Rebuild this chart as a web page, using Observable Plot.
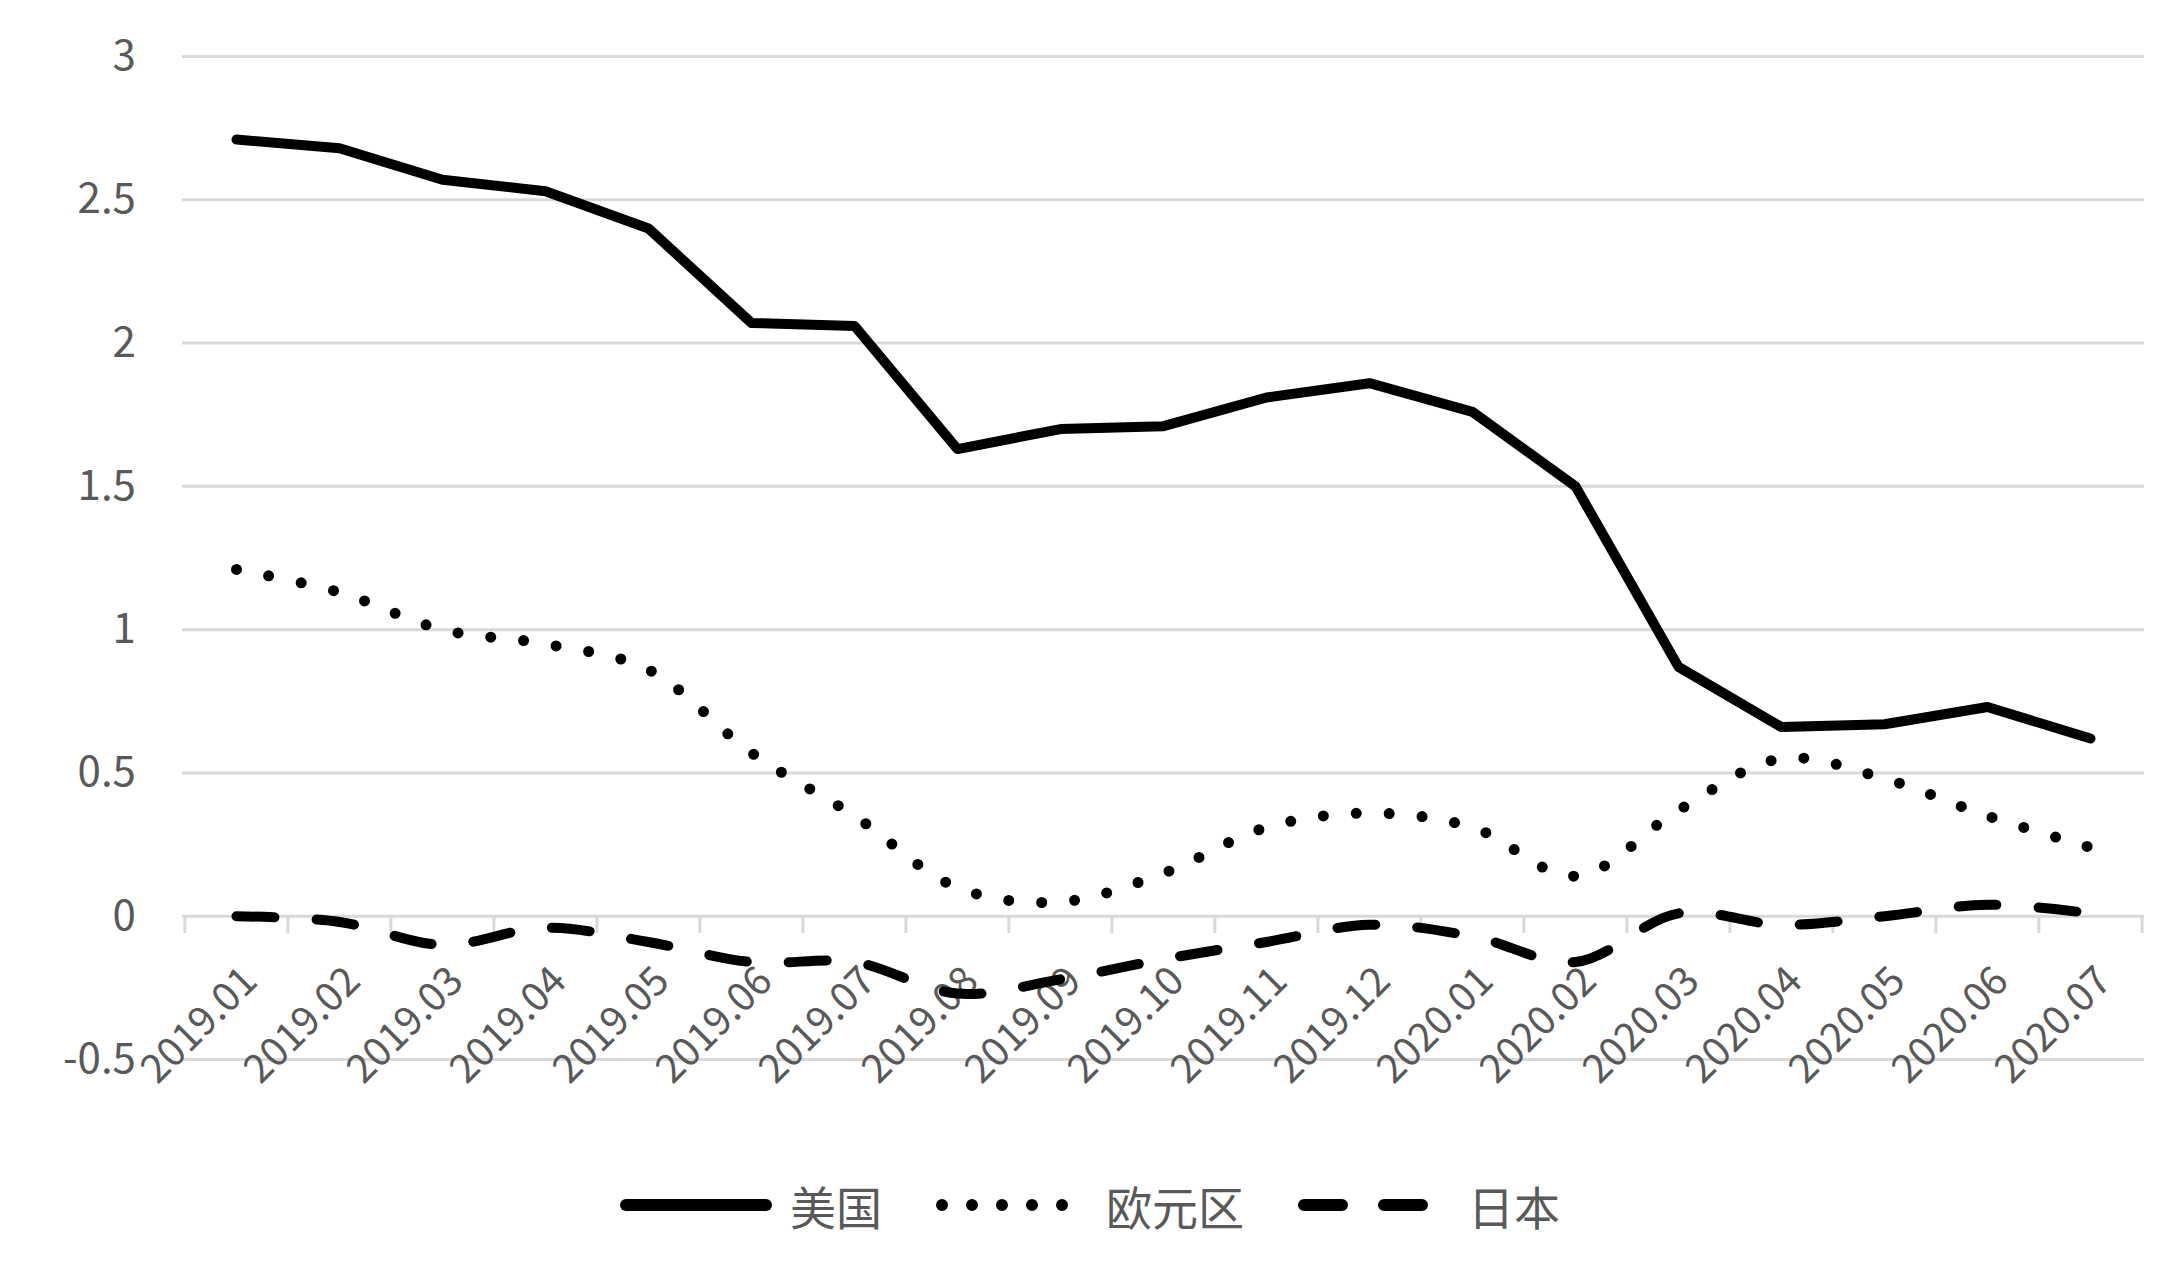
<!DOCTYPE html>
<html><head><meta charset="utf-8">
<script src="https://cdn.jsdelivr.net/npm/d3@7"></script>
<script src="https://cdn.jsdelivr.net/npm/@observablehq/plot@0.6"></script>
<style>body{margin:0;background:#fff;font-family:"Noto Sans CJK SC","DejaVu Sans",sans-serif}</style>
</head><body><div id="c"></div>
<script>
const months=["2019.01","2019.02","2019.03","2019.04","2019.05","2019.06","2019.07","2019.08","2019.09","2019.10","2019.11","2019.12","2020.01","2020.02","2020.03","2020.04","2020.05","2020.06","2020.07"];
const us=[2.71,2.68,2.57,2.53,2.40,2.07,2.06,1.63,1.70,1.71,1.81,1.86,1.76,1.50,0.87,0.66,0.67,0.73,0.62];
const euro=[1.21,1.13,1.00,0.95,0.86,0.57,0.35,0.10,0.05,0.15,0.31,0.36,0.31,0.14,0.37,0.55,0.48,0.35,0.24];
const japan=[0.00,-0.02,-0.10,-0.04,-0.09,-0.16,-0.16,-0.27,-0.22,-0.15,-0.09,-0.03,-0.07,-0.16,0.01,-0.03,0.00,0.04,0.01];
const yTicks=[-0.5,0,0.5,1,1.5,2,2.5,3];
const names=["美国","欧元区","日本"];
const mk=v=>months.map((m,i)=>({m,v:v[i]}));
const W=2176,ML=182,MR=32,step=(W-ML-MR)/months.length;
const col="#595959";
const plot=Plot.plot({
  width:W,height:1150,marginLeft:ML,marginRight:MR,marginTop:56,marginBottom:91,
  style:{fontFamily:"Noto Sans CJK SC, DejaVu Sans",fontSize:"40px",color:col,background:"#fff"},
  x:{type:"point",domain:months,padding:0.5,axis:null},
  y:{domain:[-0.5,3],axis:null},
  marks:[
    Plot.ruleY(yTicks,{stroke:"#d9d9d9",strokeWidth:3}),
    Plot.ruleX(months,{x:d=>d,y1:0,y2:-0.06,stroke:"#d9d9d9",strokeWidth:3,dx:-step/2}),
    Plot.ruleX([months[months.length-1]],{x:d=>d,y1:0,y2:-0.06,stroke:"#d9d9d9",strokeWidth:3,dx:step/2}),
    Plot.text(yTicks,{x:()=>months[0],y:d=>d,text:d=>String(d),textAnchor:"end",dx:133-(ML+step/2),fill:col,fontSize:42}),
    Plot.text(months,{x:d=>d,y:()=>0,text:d=>d,rotate:-45,textAnchor:"end",dx:14,dy:58,fill:col,fontSize:40}),
    Plot.line(mk(us),{x:"m",y:"v",stroke:"#000",strokeWidth:10,strokeLinejoin:"round"}),
    Plot.line(mk(euro),{x:"m",y:"v",stroke:"#000",strokeWidth:11,curve:"catmull-rom",strokeDasharray:"0,33",strokeLinecap:"round"}),
    Plot.line(mk(japan),{x:"m",y:"v",stroke:"#000",strokeWidth:10,curve:"catmull-rom",strokeDasharray:"38,42",strokeLinecap:"round"})
  ]
});
document.getElementById("c").appendChild(plot);
const leg=document.createElement("div");
leg.style.cssText="display:flex;justify-content:center;align-items:center;gap:50px;height:110px;font-size:46px;color:"+col;
const dashes=["none","0,30","38,42"];
names.forEach((n,i)=>{
  const s=document.createElement("span");s.style.cssText="display:flex;align-items:center;gap:14px";
  s.innerHTML=`<svg width="160" height="24"><line x1="10" y1="12" x2="150" y2="12" stroke="#000" stroke-width="12" stroke-linecap="round" ${dashes[i]==="none"?"":`stroke-dasharray="${dashes[i]}"`}/></svg><span>${n}</span>`;
  leg.appendChild(s);
});
document.body.appendChild(leg);
</script></body></html>
